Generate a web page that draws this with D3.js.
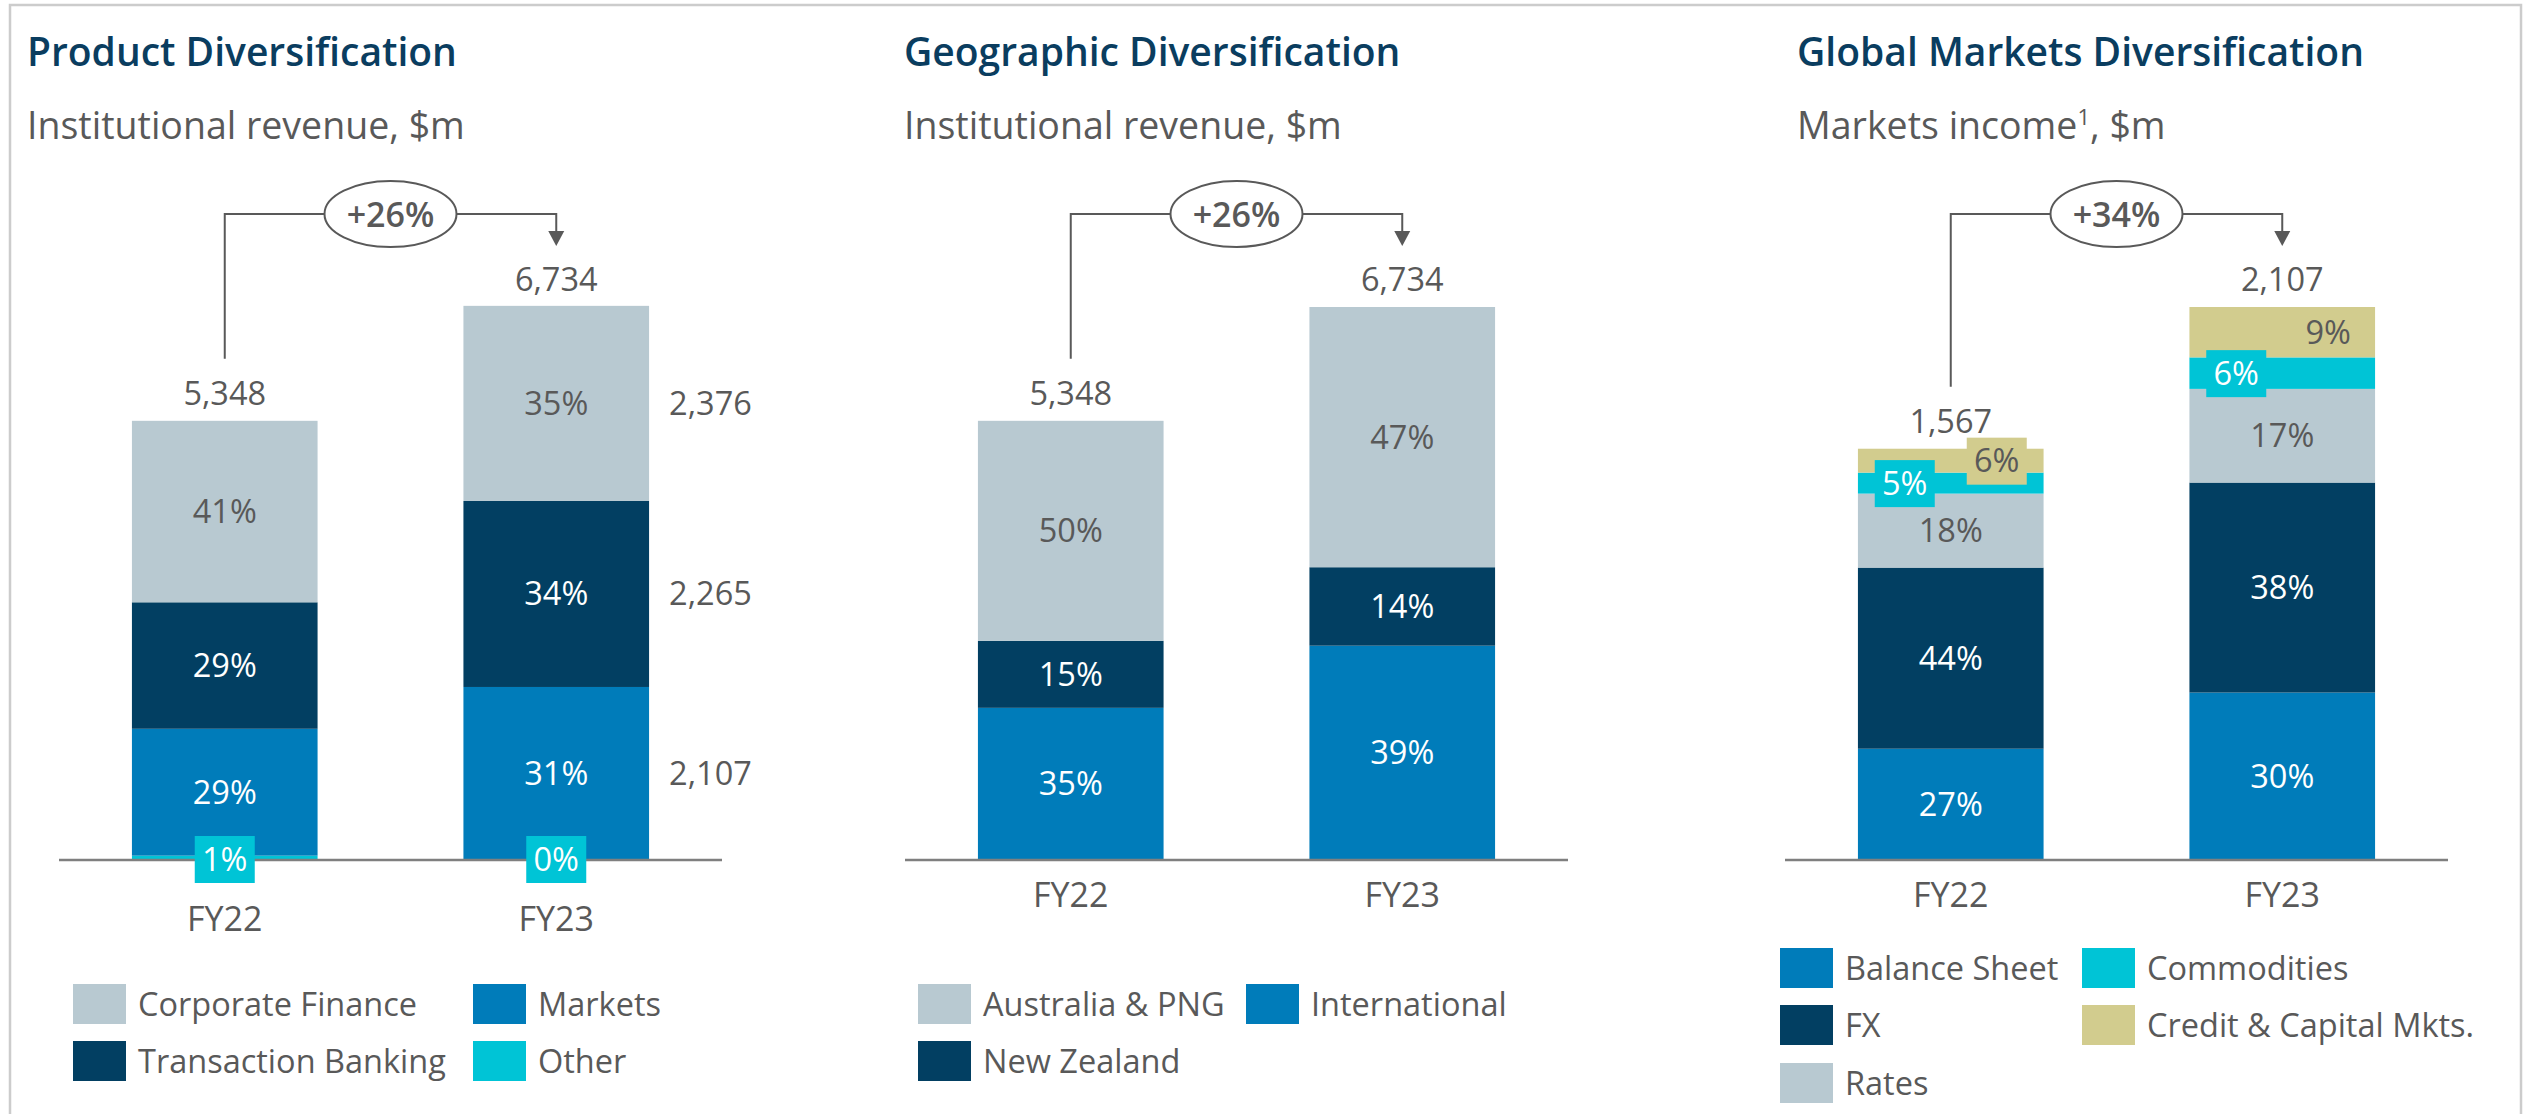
<!DOCTYPE html>
<html>
<head>
<meta charset="utf-8">
<script src="https://cdn.jsdelivr.net/npm/d3@7"></script>
<style>
  body { margin: 0; background: #fff; }
  svg { display: block; font-family: "Open Sans", sans-serif; }
</style>
</head>
<body>
<svg id="chart"></svg>
<script>
// --- data ---
var years = ["FY22", "FY23"];

// stack order is bottom -> top
var productSeries = ["Other", "Markets", "Transaction Banking", "Corporate Finance"];
var productFY22 = [53, 1545, 1540, 2210];
var productFY23 = [0, 2107, 2265, 2376];
var productTotals = [5348, 6734];

var geoSeries = ["International", "New Zealand", "Australia & PNG"];
var geoFY22 = [1853, 816, 2679];
var geoFY23 = [2610, 955, 3169];
var geoTotals = [5348, 6734];

var mktSeries = ["Balance Sheet", "FX", "Rates", "Commodities", "Credit & Capital Mkts."];
var mktFY22 = [424, 690, 282, 80, 91];
var mktFY23 = [638, 800, 357, 120, 192];
var mktTotals = [1567, 2107];

var titles = ["Product Diversification", "Geographic Diversification", "Global Markets Diversification"];
var subtitles = ["Institutional revenue, $m", "Institutional revenue, $m", "Markets income"];

// --- styles ---
var colors = {
    "Corporate Finance": "#b8c9d1", "Australia & PNG": "#b8c9d1", "Rates": "#b8c9d1",
    "Transaction Banking": "#023f62", "New Zealand": "#023f62", "FX": "#023f62",
    "Markets": "#007cba", "International": "#007cba", "Balance Sheet": "#007cba",
    "Other": "#00c4d6", "Commodities": "#00c4d6",
    "Credit & Capital Mkts.": "#d2cc8e"
};
var lightFill = ["#b8c9d1", "#d2cc8e"];
var grey = "#595959";
var navy = "#0a3d5f";

var W = 2523, H = 1114;
var svg = d3.select("#chart").attr("width", W).attr("height", H);

// outer frame
svg.append("rect")
    .attr("x", 10).attr("y", 5)
    .attr("width", 2511).attr("height", 1200)
    .attr("fill", "none").attr("stroke", "#cccccc").attr("stroke-width", 2.5);

var fmt = d3.format(",");
var baseY = 860, topY = 307;

function drawPanel(cfg) {
    var g = svg.append("g");

    // titles
    g.append("text").attr("x", cfg.titleX).attr("y", 66)
        .attr("font-size", 39).attr("font-weight", 600).attr("fill", navy)
        .text(cfg.title);
    var sub = g.append("text").attr("x", cfg.titleX).attr("y", 139)
        .attr("font-size", 37.5).attr("fill", grey)
        .text(cfg.subtitle);
    if (cfg.footnote) {
        sub.append("tspan").attr("font-size", 22).attr("dy", -14).text("1");
        sub.append("tspan").attr("dy", 14).text(", $m");
    }

    var rows = years.map(function (yr, i) {
        var r = {year: yr};
        cfg.series.forEach(function (s, j) { r[s] = cfg.values[i][j]; });
        return r;
    });
    var stacked = d3.stack().keys(cfg.series)(rows);

    var x = d3.scaleBand().domain(years)
        .range([cfg.x0, cfg.x0 + 663])
        .paddingInner(0.44).paddingOuter(0.22);
    var y = d3.scaleLinear().domain([0, d3.max(cfg.totals)]).range([baseY, topY]);
    var bw = x.bandwidth();

    // bars
    stacked.forEach(function (layer) {
        g.selectAll(null).data(layer).enter().append("rect")
            .attr("x", function (d) { return x(d.data.year); })
            .attr("y", function (d) { return y(d[1]); })
            .attr("width", bw)
            .attr("height", function (d) { return y(d[0]) - y(d[1]); })
            .attr("fill", colors[layer.key]);
    });

    // axis line
    g.append("line")
        .attr("x1", cfg.x0).attr("x2", cfg.x0 + 663)
        .attr("y1", baseY).attr("y2", baseY)
        .attr("stroke", "#7f7f7f").attr("stroke-width", 2.5);

    // category labels
    g.selectAll(null).data(years).enter().append("text")
        .attr("x", function (d) { return x(d) + bw / 2; })
        .attr("y", cfg.catY)
        .attr("text-anchor", "middle").attr("font-size", 34).attr("fill", grey)
        .text(function (d) { return d; });

    // segment labels
    stacked.forEach(function (layer) {
        var key = layer.key;
        var fill = colors[key];
        var txtCol = lightFill.indexOf(fill) >= 0 ? grey : "#fff";
        var rule = cfg.rules[key] || {};
        layer.forEach(function (d, i) {
            var v = d[1] - d[0];
            var total = cfg.totals[i];
            var pct = Math.round(v / total * 100) + "%";
            var h = y(d[0]) - y(d[1]);
            var cx = x(d.data.year) + bw / 2 + (rule.dx || 0);
            var cy = rule.atBase ? baseY - 1 : (y(d[0]) + y(d[1])) / 2;
            if (rule.atBase || (rule.dx && h < 40)) {
                g.append("rect")
                    .attr("x", cx - 30).attr("y", cy - 23)
                    .attr("width", 60).attr("height", 47)
                    .attr("fill", fill);
            }
            g.append("text")
                .attr("x", cx).attr("y", cy + 11.5)
                .attr("text-anchor", "middle").attr("font-size", 32.5).attr("fill", txtCol)
                .text(pct);
        });
    });

    // side values for last year
    if (cfg.sideValues) {
        stacked.forEach(function (layer) {
            var d = layer[1];
            if (d[1] - d[0] <= 0) return;
            g.append("text")
                .attr("x", x(years[1]) + bw + 20)
                .attr("y", (y(d[0]) + y(d[1])) / 2 + 11.5)
                .attr("font-size", 32.5).attr("fill", grey)
                .text(fmt(d[1] - d[0]));
        });
    }

    // totals
    var totY = cfg.totals.map(function (t) { return y(t) - 16; });
    g.selectAll(null).data(cfg.totals).enter().append("text")
        .attr("x", function (d, i) { return x(years[i]) + bw / 2; })
        .attr("y", function (d, i) { return totY[i]; })
        .attr("text-anchor", "middle").attr("font-size", 32.5).attr("fill", grey)
        .text(function (d) { return fmt(d); });

    // growth bracket
    var xl = x(years[0]) + bw / 2, xr = x(years[1]) + bw / 2, yb = 214;
    var mid = (xl + xr) / 2;
    var growth = "+" + Math.round((cfg.totals[1] / cfg.totals[0] - 1) * 100) + "%";
    g.append("path")
        .attr("d", "M" + xl + "," + (totY[0] - 46) + "V" + yb + "H" + xr + "V" + (totY[1] - 60))
        .attr("fill", "none").attr("stroke", grey).attr("stroke-width", 2);
    g.append("path")
        .attr("d", "M" + (xr - 8) + "," + (totY[1] - 60) + "L" + (xr + 8) + "," + (totY[1] - 60) +
            "L" + xr + "," + (totY[1] - 45) + "Z")
        .attr("fill", grey);
    g.append("ellipse")
        .attr("cx", mid).attr("cy", yb).attr("rx", 66).attr("ry", 33)
        .attr("fill", "#fff").attr("stroke", grey).attr("stroke-width", 2);
    g.append("text")
        .attr("x", mid).attr("y", yb + 13)
        .attr("text-anchor", "middle").attr("font-size", 34).attr("font-weight", 600).attr("fill", grey)
        .text(growth);

    // legend
    cfg.legend.forEach(function (item) {
        g.append("rect")
            .attr("x", item.x).attr("y", item.y)
            .attr("width", 53).attr("height", 40)
            .attr("fill", colors[item.key]);
        g.append("text")
            .attr("x", item.x + 65).attr("y", item.y + 32)
            .attr("font-size", 32.5).attr("fill", grey)
            .text(item.key);
    });
}

drawPanel({
    title: titles[0], subtitle: subtitles[0], titleX: 27, x0: 59, catY: 931,
    series: productSeries, values: [productFY22, productFY23], totals: productTotals,
    sideValues: true,
    rules: {"Other": {atBase: true}},
    legend: [
        {key: "Corporate Finance", x: 73, y: 984},
        {key: "Transaction Banking", x: 73, y: 1041},
        {key: "Markets", x: 473, y: 984},
        {key: "Other", x: 473, y: 1041}
    ]
});

drawPanel({
    title: titles[1], subtitle: subtitles[1], titleX: 904, x0: 905, catY: 907,
    series: geoSeries, values: [geoFY22, geoFY23], totals: geoTotals,
    rules: {},
    legend: [
        {key: "Australia & PNG", x: 918, y: 984},
        {key: "New Zealand", x: 918, y: 1041},
        {key: "International", x: 1246, y: 984}
    ]
});

drawPanel({
    title: titles[2], subtitle: subtitles[2], footnote: true, titleX: 1797, x0: 1785, catY: 907,
    series: mktSeries, values: [mktFY22, mktFY23], totals: mktTotals,
    rules: {"Commodities": {dx: -46}, "Credit & Capital Mkts.": {dx: 46}},
    legend: [
        {key: "Balance Sheet", x: 1780, y: 948},
        {key: "FX", x: 1780, y: 1005},
        {key: "Rates", x: 1780, y: 1063},
        {key: "Commodities", x: 2082, y: 948},
        {key: "Credit & Capital Mkts.", x: 2082, y: 1005}
    ]
});
</script>
</body>
</html>
